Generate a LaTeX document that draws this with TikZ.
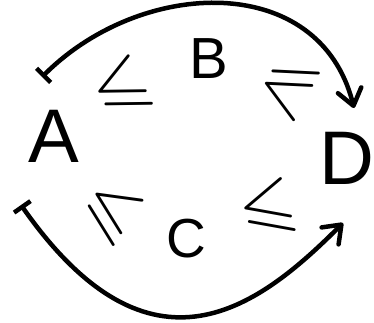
\documentclass[tikz,border=0pt]{standalone}
\usepackage{fontspec}
\usepackage{amssymb}
\usetikzlibrary{arrows.meta}
\newfontfamily\handfont{Liberation Sans}

\begin{document}
\begin{tikzpicture}[
          x=1pt, y=1pt,
          letter/.style={font=\handfont\fontsize{#1}{#1}\selectfont, inner sep=0pt},
          relsym/.style={font=\Huge, inner sep=0pt, scale=2.9},
          maparc/.style={line width=4.5pt, line cap=round, line join=round,
            {Bar[width=20pt]}-{Straight Barb[length=16pt, width=24pt, round]}}
        ]
          \useasboundingbox (0,0) rectangle (374,322);
          \node[letter=76] (A) at (54,186) {A};
          \node[letter=58] (B) at (209,263) {B};
          \node[letter=55] (C) at (186,83) {C};
          \node[letter=76] (D) at (347,164) {D};
          % order relations
          \node[relsym, rotate=26] (ab) at (122,233) {$\leqslant$};
          \node[relsym, rotate=152] (bd) at (288,235) {$\geqslant$};
          \node[relsym, rotate=-33] (ac) at (111,110) {$\leqslant$};
          \node[relsym, rotate=15] (cd) at (268,112) {$\leqslant$};
          % maps from A to D
          \draw[maparc] ([shift={(-12,59)}]A.center) to[out=45, in=104, looseness=1.15] ([shift={(7,50)}]D.center);
          \draw[maparc] ([shift={(-33,-69)}]A.center) .. controls +(-55:228) and +(225:117) .. ([shift={(-4,-65)}]D.center);
        \end{tikzpicture}
\end{document}
